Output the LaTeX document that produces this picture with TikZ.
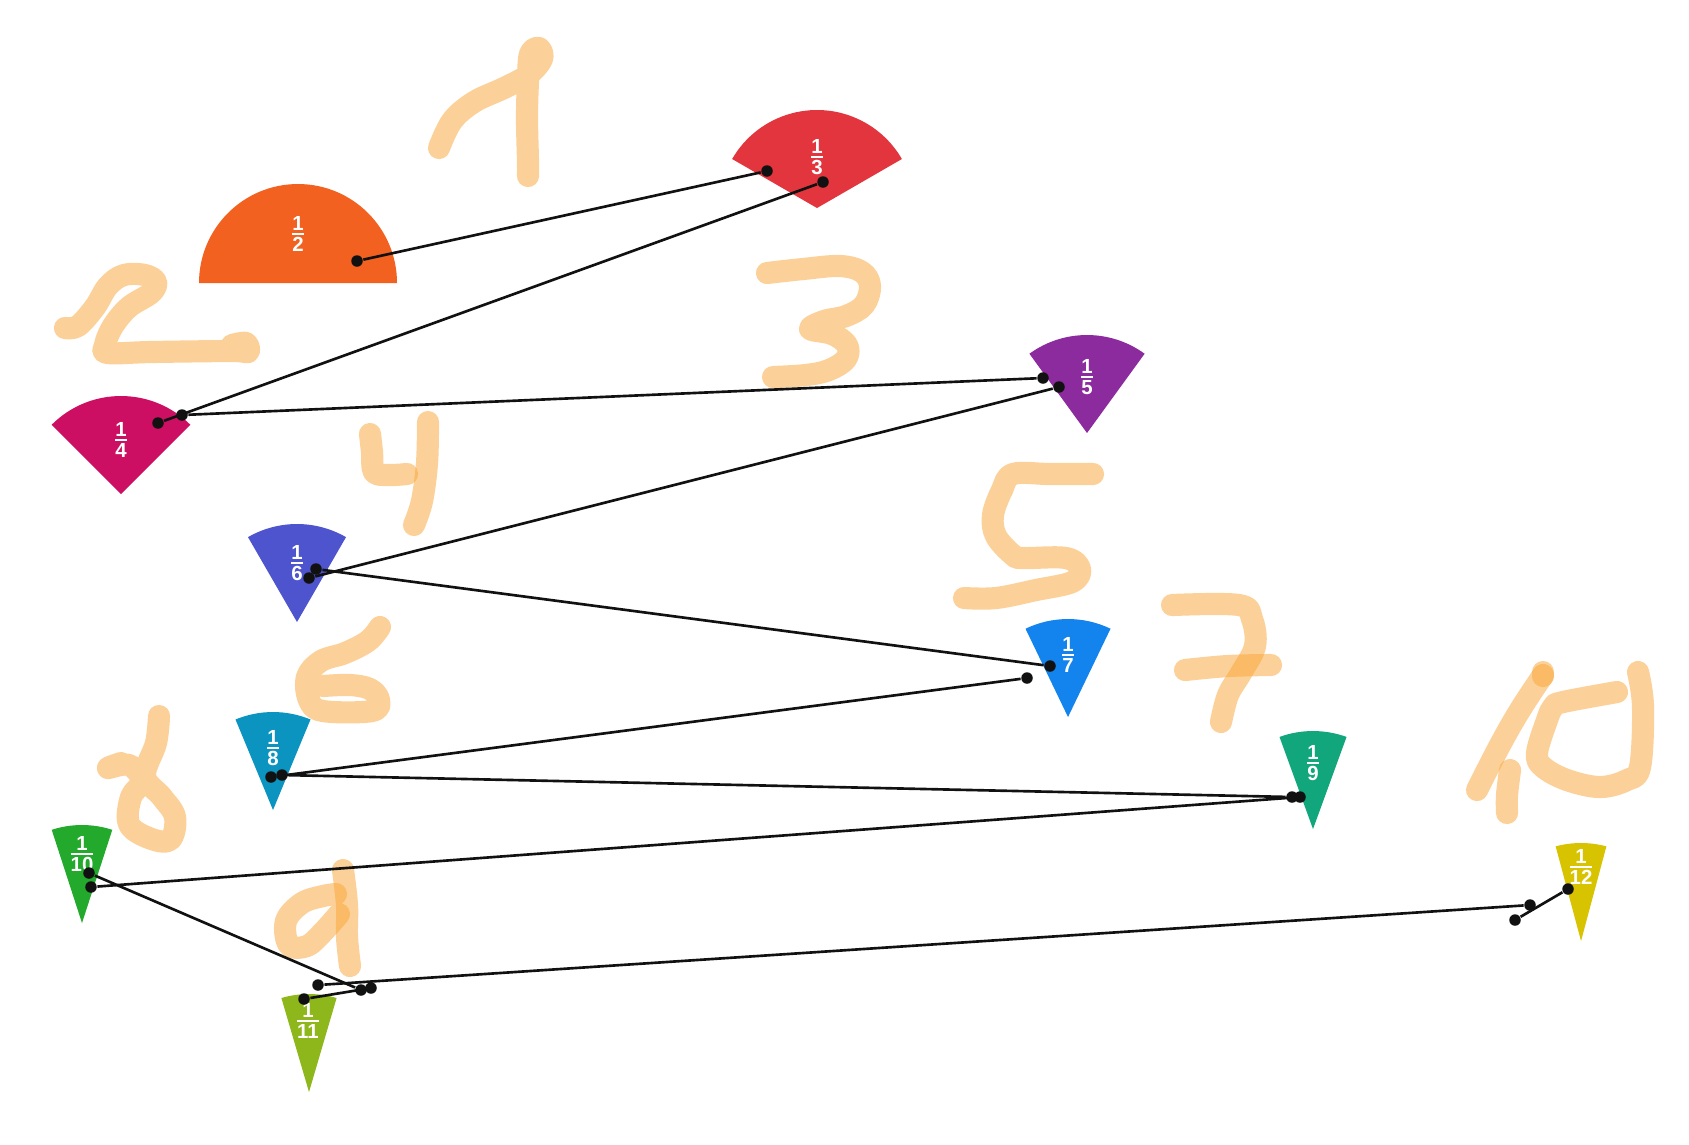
\documentclass[tikz,border=0pt]{standalone}
\usepackage{amsmath}
\usepackage{fontspec}
\newfontfamily\fracfont{Liberation Sans}
\definecolor{halfc}{HTML}{F26120}
\definecolor{thirdc}{HTML}{E2353D}
\definecolor{fourthc}{HTML}{CC0F62}
\definecolor{fifthc}{HTML}{8C2B9E}
\definecolor{sixthc}{HTML}{4E54CD}
\definecolor{seventhc}{HTML}{1384EE}
\definecolor{eighthc}{HTML}{0B94C0}
\definecolor{ninthc}{HTML}{11A67B}
\definecolor{tenthc}{HTML}{23A92B}
\definecolor{eleventhc}{HTML}{8DB71A}
\definecolor{twelfthc}{HTML}{D8C300}
\definecolor{penc}{HTML}{FBA535}
\definecolor{ink}{HTML}{111111}
\newcommand{\unitfrac}[1]{$\genfrac{}{}{0.6pt}{1}{\hbox{1}}{\hbox{#1}}$}

\begin{document}
\begin{tikzpicture}[
    x=0.01cm, y=-0.01cm,
    frac/.style={text=white, inner sep=0pt,
                 font=\fracfont\bfseries\fontsize{5.8pt}{6pt}\selectfont},
    hand/.style={draw=penc, draw opacity=0.5, line width=6.3pt,
                 line cap=round, line join=round},
    link/.style={draw=ink, line width=0.75pt},
    dot/.style={circle, fill=ink, inner sep=0pt, minimum size=1.15mm},
]

    % ============================================================
    %  PAGE
    % ============================================================
    \fill[white] (0,0) rectangle (1689,1144);
    \useasboundingbox (0,0) rectangle (1689,1144);

    % ============================================================
    %  HANDWRITTEN NUMBERS (pen strokes)
    % ============================================================
    % 1
    \draw[hand] plot[smooth, tension=0.6] coordinates {(439,148) (452,121) (474,102)
        (504,88) (528,75) (542,59) (539,48) (530,54) (528,81) (527,118) (528,162) (528,176)};
    % 2
    \draw[hand] plot[smooth, tension=0.6] coordinates {(65,328) (78,326) (95,307)
        (108,286) (124,275) (145,275) (156,282) (151,293) (129,307) (113,326) (105,345)
        (108,353) (151,352) (232,351) (248,352) (246,343) (232,345)};
    % 3
    \draw[hand] plot[smooth, tension=0.6] coordinates {(767,273) (803,269) (840,266)
        (862,272) (870,286) (864,305) (846,316) (824,321) (810,329) (832,334) (847,345)
        (846,359) (829,370) (806,375) (773,377)};
    % 4
    \draw[hand] plot[smooth, tension=0.6] coordinates {(370,434) (372,452) (374,472)
        (388,475) (407,474)};
    \draw[hand] plot[smooth, tension=0.6] coordinates {(428,422) (427,463) (422,501)
        (414,525)};
    % 5
    \draw[hand] plot[smooth, tension=0.6] coordinates {(1093,474) (1050,474) (1013,474)
        (1002,490) (993,515) (996,536) (1013,555) (1023,558) (1066,558) (1080,569)
        (1072,582) (1036,590) (996,598) (964,598)};
    % 6
    \draw[hand] plot[smooth, tension=0.6] coordinates {(380,627) (368,641) (345,653)
        (321,661) (307,677) (309,700) (323,711) (372,711) (379,700) (370,689) (350,685)
        (323,686)};
    % 7
    \draw[hand] plot[smooth, tension=0.6] coordinates {(1172,605) (1239,605) (1252,619)
        (1255,646) (1241,673) (1228,695) (1221,722)};
    \draw[hand] plot[smooth, tension=0.6] coordinates {(1185,670) (1228,666) (1271,665)};
    % 8
    \draw[hand] plot[smooth, tension=0.6] coordinates {(159,716) (156,743) (145,776)
        (162,797) (175,817) (170,840) (149,838) (129,824) (131,797) (142,781) (129,765)
        (108,768) (121,763)};
    % 9
    \draw[hand] plot[smooth, tension=0.6] coordinates {(336,894) (323,896) (302,903)
        (286,921) (289,945) (307,946) (323,932) (339,914)};
    \draw[hand] plot[smooth, tension=0.6] coordinates {(343,870) (347,905) (347,937)
        (350,966)};
    % 10
    \draw[hand] plot[smooth, tension=0.6] coordinates {(1477,790) (1500,745) (1520,710)
        (1543,675)};
    \draw[hand] (1543,672) -- (1543,676);
    \draw[hand] plot[smooth, tension=0.6] coordinates {(1510,770) (1507,795) (1507,813)};
    \draw[hand] plot[smooth, tension=0.6] coordinates {(1617,692) (1563,702) (1553,707)
        (1547,720) (1537,753) (1543,767) (1567,780) (1600,787) (1627,780) (1640,767)
        (1643,707) (1638,672)};

    % ============================================================
    %  SECTORS (apex, radius 98, opening 360/n)
    % ============================================================
    \fill[halfc]     (298,283)  -- ++(180:99) arc[start angle=180, end angle=360, radius=99] -- cycle;
    \fill[thirdc]    (817,208)  -- ++(210:98) arc[start angle=210, end angle=330, radius=98] -- cycle;
    \fill[fourthc]   (121,494)  -- ++(225:98) arc[start angle=225, end angle=315, radius=98] -- cycle;
    \fill[fifthc]    (1087,433) -- ++(234:98) arc[start angle=234, end angle=306, radius=98] -- cycle;
    \fill[sixthc]    (297,622)  -- ++(240:98) arc[start angle=240, end angle=300, radius=98] -- cycle;
    \fill[seventhc]  (1068,717) -- ++(244.29:98) arc[start angle=244.29, end angle=295.71, radius=98] -- cycle;
    \fill[eighthc]   (273,810)  -- ++(247.5:98) arc[start angle=247.5, end angle=292.5, radius=98] -- cycle;
    \fill[ninthc]    (1313,829) -- ++(250:98) arc[start angle=250, end angle=290, radius=98] -- cycle;
    \fill[tenthc]    (82,923)   -- ++(252:98) arc[start angle=252, end angle=288, radius=98] -- cycle;
    \fill[eleventhc] (309,1092) -- ++(253.64:98) arc[start angle=253.64, end angle=286.36, radius=98] -- cycle;
    \fill[twelfthc]  (1581,941) -- ++(255:98) arc[start angle=255, end angle=285, radius=98] -- cycle;

    % Fraction labels
    \node[frac] (f2)  at (298,234)   {\unitfrac{2}};
    \node[frac] (f3)  at (817,157)   {\unitfrac{3}};
    \node[frac] (f4)  at (121,440)   {\unitfrac{4}};
    \node[frac] (f5)  at (1087,377)  {\unitfrac{5}};
    \node[frac] (f6)  at (297,563)   {\unitfrac{6}};
    \node[frac] (f7)  at (1068,655)  {\unitfrac{7}};
    \node[frac] (f8)  at (273,748)   {\unitfrac{8}};
    \node[frac] (f9)  at (1313,763)  {\unitfrac{9}};
    \node[frac] (f10) at (82,854)    {\unitfrac{10}};
    \node[frac] (f11) at (308,1021)  {\unitfrac{11}};
    \node[frac] (f12) at (1581,867)  {\unitfrac{12}};

    % ============================================================
    %  DOTS
    % ============================================================
    \node[dot] (d2)   at (357,261)  {};
    \node[dot] (d3a)  at (767,171)  {};
    \node[dot] (d3b)  at (823,182)  {};
    \node[dot] (d4a)  at (158,423)  {};
    \node[dot] (d4b)  at (182,415)  {};
    \node[dot] (d5a)  at (1043,378) {};
    \node[dot] (d5b)  at (1059,387) {};
    \node[dot] (d6a)  at (309,578)  {};
    \node[dot] (d6b)  at (316,569)  {};
    \node[dot] (d7a)  at (1050,666) {};
    \node[dot] (d7b)  at (1027,678) {};
    \node[dot] (d8a)  at (271,777)  {};
    \node[dot] (d8b)  at (282,775)  {};
    \node[dot] (d9a)  at (1292,797) {};
    \node[dot] (d9b)  at (1300,797) {};
    \node[dot] (d10a) at (91,887)   {};
    \node[dot] (d10b) at (89,873)   {};
    \node[dot] (d11a) at (361,990)  {};
    \node[dot] (d11b) at (371,988)  {};
    \node[dot] (d11c) at (304,999)  {};
    \node[dot] (d11d) at (318,985)  {};
    \node[dot] (d12a) at (1530,905) {};
    \node[dot] (d12b) at (1515,920) {};
    \node[dot] (d12c) at (1568,889) {};

    % ============================================================
    %  LINKS
    % ============================================================
    \draw[link] (d2) -- (d3a);
    \draw[link] (d3b) -- (d4a);
    \draw[link] (d4b) -- (d5a);
    \draw[link] (d5b) -- (d6a);
    \draw[link] (d6b) -- (d7a);
    \draw[link] (d7b) -- (d8a);
    \draw[link] (d8b) -- (d9a);
    \draw[link] (d9b) -- (d10a);
    \draw[link] (d10b) -- (d11a);
    \draw[link] (d11c) -- (d11b);
    \draw[link] (d11d) -- (d12a);
    \draw[link] (d12b) -- (d12c);

\end{tikzpicture}
\end{document}
